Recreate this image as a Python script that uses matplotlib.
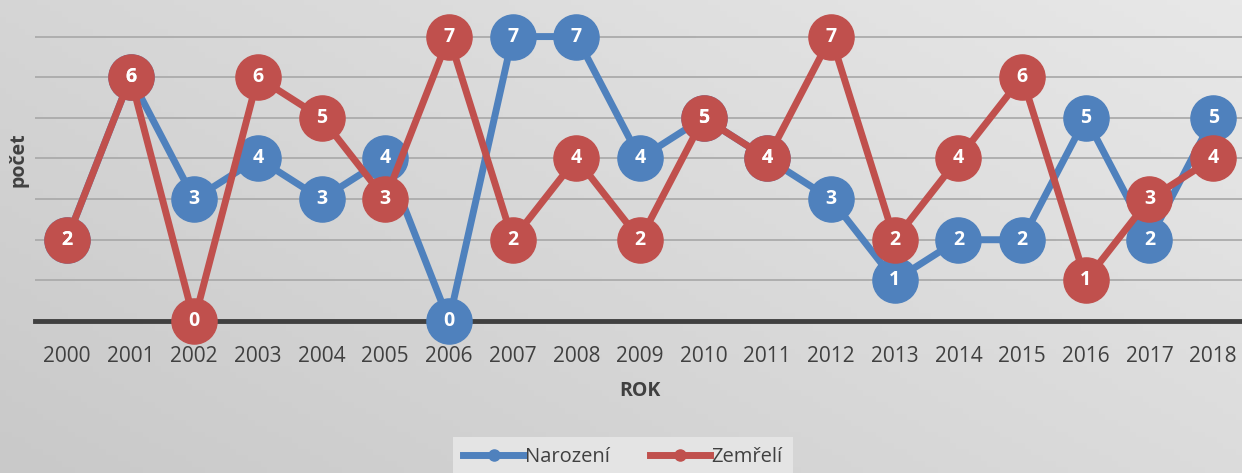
import numpy as np
import matplotlib
matplotlib.use("Agg")
import matplotlib.pyplot as plt
from matplotlib.colors import LinearSegmentedColormap

plt.rcParams['font.family'] = ['Open Sans', 'DejaVu Sans']

years = [str(y) for y in range(2000, 2019)]
narozeni = [2, 6, 3, 4, 3, 4, 0, 7, 7, 4, 5, 4, 3, 1, 2, 2, 5, 2, 5]
zemreli = [2, 6, 0, 6, 5, 3, 7, 2, 4, 2, 5, 4, 7, 2, 4, 6, 1, 3, 4]

BLUE = '#4f81bd'
RED = '#c0504d'

fig = plt.figure(figsize=(12.42, 4.73), dpi=100)

# gradient background, darker bottom-left, lighter top-right
bg = fig.add_axes([0, 0, 1, 1], zorder=-10)
gx, gy = np.meshgrid(np.linspace(0, 1, 200), np.linspace(1, 0, 80))
grad = 0.6 * gx + 0.4 * gy
cmap = LinearSegmentedColormap.from_list('bg', ['#c9c9c9', '#e8e8e8'])
bg.imshow(grad, cmap=cmap, aspect='auto', extent=[0, 1, 0, 1])
bg.axis('off')

ax = fig.add_axes([35 / 1242, 152 / 473, 1210 / 1242, 321 / 473])
ax.set_facecolor('none')
x = np.arange(len(years))

ax.plot(x, narozeni, color=BLUE, lw=5, marker='o', ms=32.5, mec=BLUE,
        mfc=BLUE, label='Narození', zorder=3, clip_on=False)
ax.plot(x, zemreli, color=RED, lw=5, marker='o', ms=32.5, mec=RED,
        mfc=RED, label='Zemřelí', zorder=4, clip_on=False)

for xi, v in zip(x, narozeni):
    ax.text(xi, v, str(v), color='white', fontsize=14, fontweight='bold',
            ha='center', va='center', zorder=6, clip_on=False)
for xi, v in zip(x, zemreli):
    ax.text(xi, v, str(v), color='white', fontsize=14, fontweight='bold',
            ha='center', va='center', zorder=7, clip_on=False)

ax.set_xlim(-0.5, 18.5)
ax.set_ylim(0, 7.9)
ax.set_yticks(range(1, 8))
ax.set_yticklabels([])
ax.tick_params(axis='y', length=0)
ax.grid(axis='y', color='#ababab', lw=1.3, zorder=0)
ax.set_axisbelow(True)
ax.set_xticks(x)
ax.set_xticklabels(years, fontsize=15, color='#404040')
ax.tick_params(axis='x', length=0, pad=18)
for s in ['top', 'right', 'left']:
    ax.spines[s].set_visible(False)
ax.spines['bottom'].set_color('#404040')
ax.spines['bottom'].set_linewidth(3.5)
ax.spines['bottom'].set_zorder(2)

ax.set_xlabel('ROK', fontsize=14, fontweight='bold', color='#404040')
ax.xaxis.set_label_coords((640 - 35) / 1210, -(381 - 321) / 321)
ax.set_ylabel('počet', fontsize=14, fontweight='bold', color='#404040')
ax.yaxis.set_label_coords(-7 / 1210, (321 - 160) / 321)

leg_handles = [
    plt.Line2D([], [], color=BLUE, lw=5, marker='o', ms=8),
    plt.Line2D([], [], color=RED, lw=5, marker='o', ms=8),
]
leg = fig.legend(leg_handles, ['Narození', 'Zemřelí'], loc='center',
                 bbox_to_anchor=(623 / 1242, 16 / 473), ncol=2, frameon=True,
                 fontsize=14.5, handlelength=3.0, handletextpad=0.05,
                 columnspacing=2.0, borderpad=0.5)
leg.get_frame().set_facecolor('#e4e4e4')
leg.get_frame().set_edgecolor('none')
leg.get_frame().set_alpha(1)
leg.get_frame().set_boxstyle('square', pad=0)
for t in leg.get_texts():
    t.set_color('#404040')

fig.savefig('out.png', dpi=100)
